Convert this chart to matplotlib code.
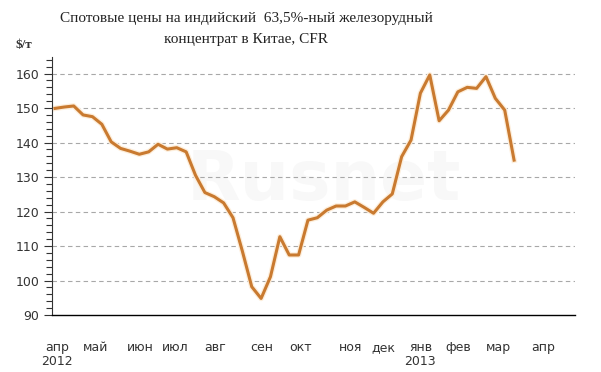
import numpy as np
import matplotlib
matplotlib.use("Agg")
import matplotlib.pyplot as plt
from matplotlib.ticker import MultipleLocator, FixedLocator

# weekly spot prices, $/t
price = [149.9, 150.3, 150.6, 148.0, 147.5, 145.3, 140.2, 138.3, 137.5, 136.6,
         137.3, 139.5, 138.1, 138.5, 137.3, 130.5, 125.5, 124.3, 122.5, 118.2,
         108.5, 98.2, 94.8, 101.1, 112.7, 107.4, 107.4, 117.5, 118.2, 120.4,
         121.6, 121.6, 122.8, 121.2, 119.5, 122.8, 125.1, 135.9, 140.7, 154.3,
         159.6, 146.3, 149.4, 154.7, 156.0, 155.7, 159.1, 152.8, 149.4, 134.9]

months = ['апр', 'май', 'июн', 'июл', 'авг', 'сен', 'окт', 'ноя', 'дек',
          'янв', 'фев', 'мар', 'апр']
month_pos = [0.2, 4.3, 9.1, 12.8, 17.1, 22.1, 26.2, 31.5, 35.0, 39.0, 43.0, 47.3, 52.1]
years = [(0.2, '2012'), (39.0, '2013')]

x = np.arange(len(price))

fig = plt.figure(figsize=(6.01, 3.72), dpi=100)
ax = fig.add_axes([0.0865, 0.1532, 0.8702, 0.6936])

# faint watermark
ax.text(0.52, 0.52, 'Rusnet', transform=ax.transAxes, fontsize=50,
        color='#f8f8f8', ha='center', va='center', fontweight='bold', zorder=0)

for v in range(100, 161, 10):
    ax.axhline(v, color='#a8a8a8', lw=0.8, ls=(0, (4, 3)), zorder=1)

ax.plot(x, price, color='#fdeedb', lw=4, solid_joinstyle='round', zorder=2)
ax.plot(x, price, color='#c97a30', lw=2.2, solid_joinstyle='round', zorder=3)

ax.set_xlim(-0.32, 55.5)
ax.set_ylim(90, 164.8)

ax.yaxis.set_major_locator(MultipleLocator(10))
ax.yaxis.set_minor_locator(MultipleLocator(2))
ax.tick_params(axis='y', which='major', length=6, width=0.8, color='#333333',
               labelsize=9, labelcolor='#333333', pad=3)
ax.tick_params(axis='y', which='minor', length=4, width=0.8, color='#333333')

ax.xaxis.set_major_locator(FixedLocator(month_pos))
ax.set_xticklabels(months)
ax.tick_params(axis='x', length=0, labelsize=9, labelcolor='#333333', pad=19)

for pos, yr in years:
    ax.text(pos, -0.155, yr, transform=ax.get_xaxis_transform(), ha='center',
            va='top', fontsize=9, color='#333333')

for s in ['top', 'right']:
    ax.spines[s].set_visible(False)
ax.spines['left'].set_color('#333333')
ax.spines['left'].set_linewidth(0.8)
ax.spines['bottom'].set_color('#000000')
ax.spines['bottom'].set_linewidth(1.0)

fig.text(0.41, 0.95, 'Спотовые цены на индийский  63,5%-ный железорудный',
         ha='center', va='center', fontsize=11, family='Liberation Serif',
         color='#222222')
fig.text(0.41, 0.895, 'концентрат в Китае, CFR', ha='center', va='center',
         fontsize=11, family='Liberation Serif', color='#222222')
fig.text(0.04, 0.878, '$/т', ha='center', va='center', fontsize=9.5,
         family='Liberation Serif', fontweight='bold', color='#333333')

fig.savefig('out.png', dpi=100)
